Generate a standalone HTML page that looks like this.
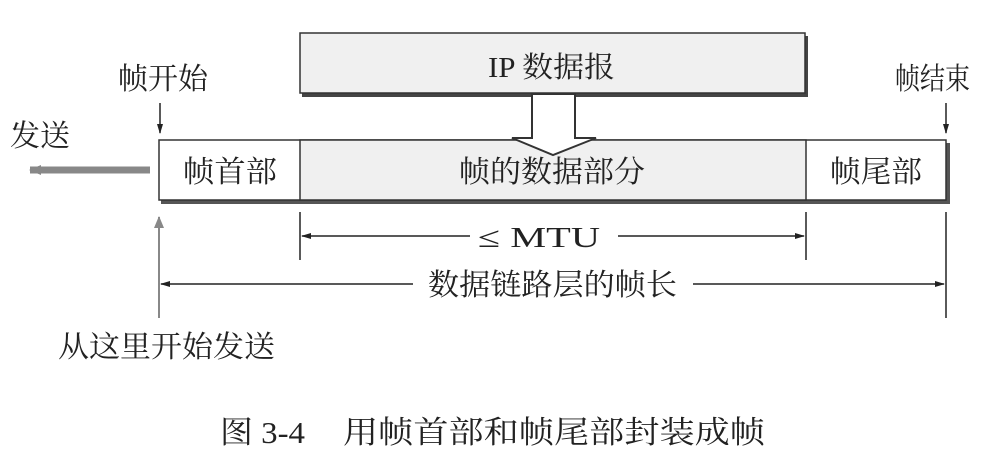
<!DOCTYPE html>
<html><head><meta charset="utf-8"><style>
html,body{margin:0;padding:0;background:#fff;width:993px;height:451px;overflow:hidden}
svg text{font-family:"Liberation Serif","Noto Serif CJK SC",serif;fill:#222}
</style></head><body>
<svg width="993" height="451" viewBox="0 0 993 451" xmlns="http://www.w3.org/2000/svg">
<defs>
<marker id="ah" markerWidth="10" markerHeight="8" refX="9" refY="4" orient="auto" markerUnits="userSpaceOnUse">
<path d="M0,1 L10,4 L0,7 Z" fill="#222"/></marker>
<marker id="ahg" markerWidth="12" markerHeight="10" refX="11" refY="5" orient="auto" markerUnits="userSpaceOnUse">
<path d="M0,0 L12,5 L0,10 Z" fill="#888"/></marker>
</defs>
<rect x="302" y="36" width="506" height="61" fill="#444"/>
<rect x="300" y="33" width="505" height="60" fill="#f0f0f0" stroke="#333" stroke-width="1.5"/>
<text x="488" y="77" font-size="29" textLength="127" lengthAdjust="spacingAndGlyphs">IP 数据报</text>
<rect x="161" y="143" width="789" height="61" fill="#555"/>
<rect x="159" y="140" width="787" height="60" fill="#fff" stroke="#333" stroke-width="1.5"/>
<rect x="300" y="140" width="506" height="60" fill="#f0f0f0" stroke="#333" stroke-width="1.5"/>
<text x="183" y="182" font-size="30" textLength="94" lengthAdjust="spacingAndGlyphs">帧首部</text>
<text x="459" y="182" font-size="30" textLength="186" lengthAdjust="spacingAndGlyphs">帧的数据部分</text>
<text x="830" y="182" font-size="30" textLength="92" lengthAdjust="spacingAndGlyphs">帧尾部</text>
<path d="M532,94 L532,138 L512,138 L553,155 L596,138 L575,138 L575,94 Z" fill="#fff" stroke="#333" stroke-width="2"/>
<text x="118" y="89" font-size="30" textLength="90" lengthAdjust="spacingAndGlyphs">帧开始</text>
<line x1="160" y1="103" x2="160" y2="133" stroke="#222" stroke-width="1.5" marker-end="url(#ah)"/>
<text x="895" y="89" font-size="30" textLength="75" lengthAdjust="spacingAndGlyphs">帧结束</text>
<line x1="946" y1="103" x2="946" y2="133" stroke="#222" stroke-width="1.5" marker-end="url(#ah)"/>
<text x="10" y="146" font-size="30" textLength="60" lengthAdjust="spacingAndGlyphs">发送</text>
<line x1="150" y1="170" x2="30" y2="170" stroke="#888" stroke-width="7" marker-end="url(#ahg)"/>
<line x1="300" y1="212" x2="300" y2="260" stroke="#222" stroke-width="1.5"/>
<line x1="806" y1="212" x2="806" y2="260" stroke="#222" stroke-width="1.5"/>
<line x1="470" y1="236" x2="302" y2="236" stroke="#222" stroke-width="1.5" marker-end="url(#ah)"/>
<line x1="618" y1="236" x2="804" y2="236" stroke="#222" stroke-width="1.5" marker-end="url(#ah)"/>
<text x="478" y="247" font-size="29" textLength="122" lengthAdjust="spacingAndGlyphs">≤ MTU</text>
<line x1="946" y1="212" x2="946" y2="318" stroke="#222" stroke-width="1.5"/>
<line x1="159" y1="318" x2="159" y2="217" stroke="#888" stroke-width="2" marker-end="url(#ahg)"/>
<line x1="413" y1="284" x2="161" y2="284" stroke="#222" stroke-width="1.5" marker-end="url(#ah)"/>
<line x1="693" y1="284" x2="944" y2="284" stroke="#222" stroke-width="1.5" marker-end="url(#ah)"/>
<text x="428" y="295" font-size="30" textLength="249" lengthAdjust="spacingAndGlyphs">数据链路层的帧长</text>
<text x="58" y="357" font-size="30" textLength="217" lengthAdjust="spacingAndGlyphs">从这里开始发送</text>
<text x="220" y="443" font-size="31" textLength="85" lengthAdjust="spacingAndGlyphs">图 3-4</text>
<text x="343" y="443" font-size="31" textLength="422" lengthAdjust="spacingAndGlyphs">用帧首部和帧尾部封装成帧</text>
</svg>
</body></html>
